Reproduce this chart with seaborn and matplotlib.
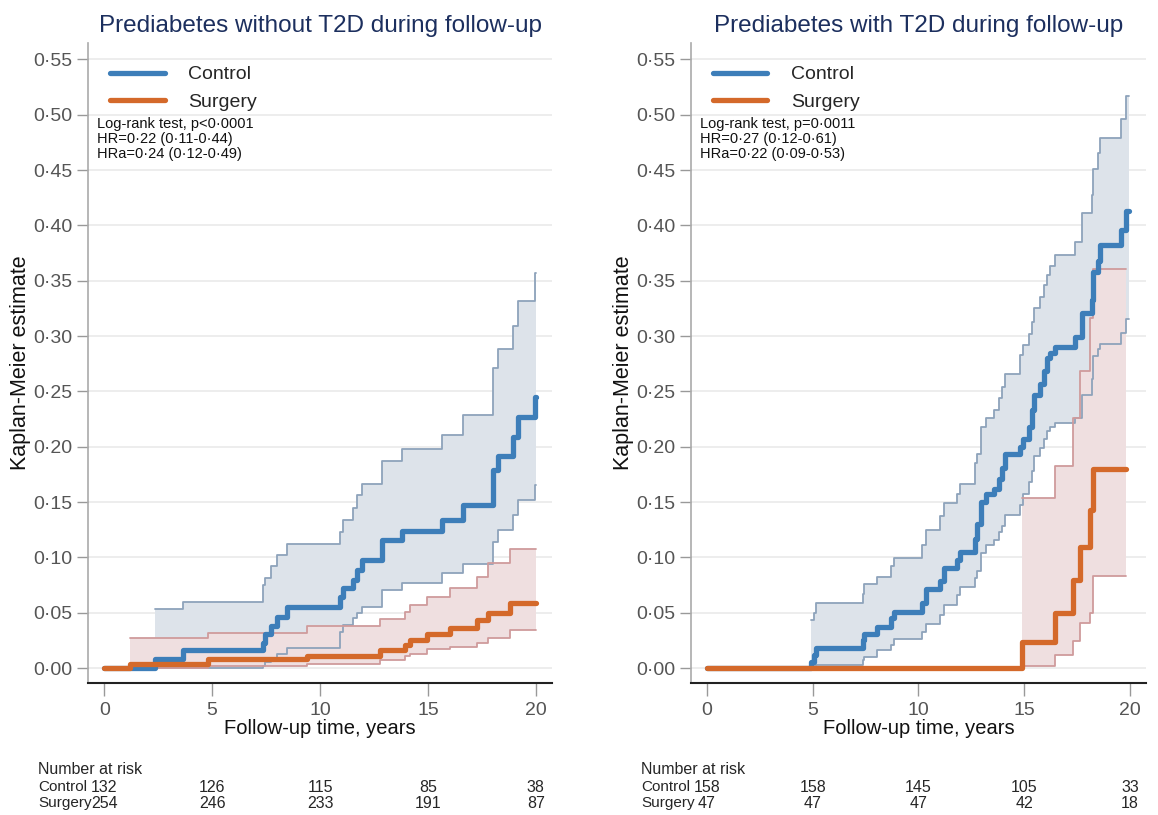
import matplotlib
matplotlib.use("Agg")
from matplotlib import pyplot as plt
from matplotlib import transforms
import seaborn as sns

# ---- data ----
# left panel: prediabetes without T2D during follow-up
L_ctrl_t = [0, 2.36, 3.67, 7.38, 7.45, 7.75, 8.0, 8.45, 10.93, 11.08, 11.55, 11.70, 11.93,
            12.86, 13.79, 15.64, 16.64, 18.03, 18.26, 18.96, 19.19, 19.96, 20.0]
L_ctrl_est = [0, 0.008, 0.016, 0.023, 0.031, 0.038, 0.046, 0.055, 0.064, 0.072, 0.0795, 0.0885, 0.098,
              0.1156, 0.124, 0.1337, 0.147, 0.179, 0.192, 0.209, 0.227, 0.245, 0.245]
L_ctrl_hi = [None, 0.053, 0.060, 0.075, 0.081, 0.092, 0.102, 0.112, 0.123, 0.134, 0.145, 0.156, 0.166,
             0.187, 0.1975, 0.211, 0.229, 0.271, 0.288, 0.309, 0.332, 0.357, 0.357]
L_ctrl_lo = [None, 0.0, 0.0, 0.002, 0.005, 0.009, 0.013, 0.018, 0.033, 0.039, 0.045, 0.050, 0.055,
             0.0705, 0.077, 0.0855, 0.094, 0.114, 0.125, 0.138, 0.152, 0.165, 0.165]

L_surg_t = [0, 1.2, 4.83, 9.39, 12.78, 13.94, 14.17, 14.95, 16.03, 17.26, 17.8, 18.8, 20.0]
L_surg_est = [0, 0.004, 0.008, 0.011, 0.016, 0.021, 0.025, 0.031, 0.036, 0.043, 0.050, 0.059, 0.059]
L_surg_hi = [None, 0.027, 0.032, 0.038, 0.044, 0.051, 0.057, 0.064, 0.072, 0.0825, 0.095, 0.108, 0.108]
L_surg_lo = [None, 0.0, 0.002, 0.0036, 0.007, 0.0105, 0.013, 0.017, 0.0193, 0.023, 0.027, 0.034, 0.034]

# right panel: prediabetes with T2D during follow-up
R_ctrl_t = [0, 4.93, 5.04, 5.16, 7.36, 7.44, 8.06, 8.69, 8.85, 10.18, 10.34, 11.04, 11.2, 11.83, 11.98,
            12.69, 12.77, 12.97, 13.21, 13.55, 13.79, 13.94, 14.10, 14.81, 14.96, 15.2, 15.36, 15.44,
            15.75, 15.91, 16.06, 16.22, 16.46, 17.4, 17.71, 18.18, 18.26, 18.49, 18.57, 19.59, 19.83, 19.95]
R_ctrl_est = [0, 0.005, 0.012, 0.018, 0.025, 0.031, 0.037, 0.045, 0.051, 0.059, 0.071, 0.079, 0.090, 0.098,
              0.105, 0.117, 0.130, 0.150, 0.157, 0.162, 0.171, 0.181, 0.193, 0.200, 0.207, 0.218, 0.233,
              0.247, 0.257, 0.268, 0.280, 0.285, 0.290, 0.299, 0.321, 0.333, 0.358, 0.368, 0.382, 0.396,
              0.413, 0.413]
R_ctrl_hi = [None, 0.043, 0.050, 0.059, 0.067, 0.076, 0.082, 0.092, 0.099, 0.111, 0.125, 0.137, 0.149, 0.157,
             0.166, 0.185, 0.193, 0.218, 0.226, 0.233, 0.244, 0.254, 0.266, 0.283, 0.292, 0.302, 0.313,
             0.325, 0.335, 0.346, 0.355, 0.363, 0.373, 0.385, 0.411, 0.427, 0.451, 0.465, 0.479, 0.496,
             0.517, 0.517]
R_ctrl_lo = [None, 0.001, 0.002, 0.003, 0.007, 0.010, 0.016, 0.021, 0.026, 0.033, 0.040, 0.048, 0.057, 0.066,
             0.073, 0.081, 0.088, 0.104, 0.111, 0.116, 0.123, 0.128, 0.138, 0.147, 0.157, 0.168, 0.178,
             0.192, 0.199, 0.207, 0.214, 0.218, 0.221, 0.226, 0.247, 0.261, 0.282, 0.288, 0.293, 0.303,
             0.315, 0.315]

R_surg_t = [0, 14.89, 16.46, 17.32, 17.63, 18.1, 18.26, 19.8]
R_surg_est = [0, 0.0235, 0.050, 0.0795, 0.109, 0.143, 0.180, 0.180]
R_surg_hi = [None, 0.154, 0.183, 0.226, 0.268, 0.316, 0.361, 0.361]
R_surg_lo = [None, 0.002, 0.012, 0.024, 0.041, 0.050, 0.083, 0.083]

titles = ["Prediabetes without T2D during follow-up", "Prediabetes with T2D during follow-up"]
stats_text = [["Log-rank test, p<0\u00b70001", "HR=0\u00b722 (0\u00b711-0\u00b744)", "HRa=0\u00b724 (0\u00b712-0\u00b749)"],
              ["Log-rank test, p=0\u00b70011", "HR=0\u00b727 (0\u00b712-0\u00b761)", "HRa=0\u00b722 (0\u00b709-0\u00b753)"]]
risk_times = [0, 5, 10, 15, 20]
L_risk_ctrl = [132, 126, 115, 85, 38]
L_risk_surg = [254, 246, 233, 191, 87]
R_risk_ctrl = [158, 158, 145, 105, 33]
R_risk_surg = [47, 47, 47, 42, 18]
yticks = [0, 0.05, 0.10, 0.15, 0.20, 0.25, 0.30, 0.35, 0.40, 0.45, 0.50, 0.55]
xticks = [0, 5, 10, 15, 20]

BLUE = "#3d7eb9"
ORANGE = "#d4692a"
BLUE_CI = "#8ea3bb"
BLUE_FILL = "#dde3ea"
RED_CI = "#cf9b9c"
RED_FILL = "#efdfe0"

sns.set_theme(style="white")
plt.rcParams['font.family'] = ['Liberation Sans', 'DejaVu Sans']

fig = plt.figure(figsize=(11.58, 8.15), dpi=100)
ax_l = fig.add_axes([0.076, 0.162, 0.4007, 0.785])
ax_r = fig.add_axes([0.5967, 0.162, 0.3929, 0.785])


def draw_ci(ax, t, lo, hi, line_col, fill_col):
    tt = t[1:]
    lo2 = lo[1:]
    hi2 = hi[1:]
    ax.fill_between(tt, lo2, hi2, step="post", color=fill_col, lw=0, zorder=1)
    sns.lineplot(x=tt, y=hi2, ax=ax, drawstyle="steps-post", color=line_col, lw=1.3, zorder=2)
    sns.lineplot(x=tt, y=lo2, ax=ax, drawstyle="steps-post", color=line_col, lw=1.3, zorder=2)


def panel(ax, title, ctrl, surg, stats, risk_c, risk_s):
    ax.set_xlim(-0.75, 20.75)
    ax.set_ylim(-0.0135, 0.5646)
    for y in yticks:
        ax.axhline(y, color="#ececec", lw=1.3, zorder=0)
    draw_ci(ax, ctrl[0], ctrl[2], ctrl[3], BLUE_CI, BLUE_FILL)
    draw_ci(ax, surg[0], surg[2], surg[3], RED_CI, RED_FILL)
    sns.lineplot(x=ctrl[0], y=ctrl[1], ax=ax, drawstyle="steps-post", color=BLUE, lw=3.8,
                 zorder=3, label="Control")
    sns.lineplot(x=surg[0], y=surg[1], ax=ax, drawstyle="steps-post", color=ORANGE, lw=3.8,
                 zorder=4, label="Surgery")

    ax.set_yticks(yticks)
    ax.set_yticklabels([f"{v:.2f}".replace(".", "\u00b7") for v in yticks])
    ax.set_xticks(xticks)
    ax.tick_params(axis="both", which="both", direction="out", length=8, width=1,
                   bottom=True, left=True, color="#999999", labelcolor="#555555",
                   labelsize=14, pad=3)
    ax.tick_params(axis="x", length=9, pad=5)
    for s in ["top", "right"]:
        ax.spines[s].set_visible(False)
    ax.spines["left"].set_color("#aaaaaa")
    ax.spines["left"].set_linewidth(1.2)
    ax.spines["bottom"].set_color("#222222")
    ax.spines["bottom"].set_linewidth(1.5)

    ax.set_title(title, fontsize=17.5, color="#1c2f5e", pad=8)
    ax.set_xlabel("Follow-up time, years", fontsize=14.5, color="#111111", labelpad=0)
    ax.set_ylabel("Kaplan-Meier estimate", fontsize=15.5, color="#111111", labelpad=2)

    ax.legend(loc="upper left", bbox_to_anchor=(0.01, 0.992), frameon=False, fontsize=14,
              handlelength=2.8, handletextpad=1.2, labelspacing=0.5)
    ax.text(0.019, 0.884, "\n".join(stats), transform=ax.transAxes, fontsize=10.5,
            va="top", ha="left", color="#111111", linespacing=1.05)

    # number at risk table
    tr = transforms.blended_transform_factory(ax.transData, fig.transFigure)
    x0 = ax.transAxes.transform((0, 0))[0]
    lab_x = (x0 - 50) / fig.bbox.width
    fig.text(lab_x, 1 - 770 / 815, "Number at risk", fontsize=11.5, va="center", ha="left")
    fig.text(lab_x, 1 - 787 / 815, "Control", fontsize=11, va="center", ha="left")
    fig.text(lab_x, 1 - 803 / 815, "Surgery", fontsize=11, va="center", ha="left")
    for t, c, s in zip(risk_times, risk_c, risk_s):
        ax.text(t, 1 - 787 / 815, str(c), transform=tr, fontsize=11.5, va="center", ha="center")
        ax.text(t, 1 - 803 / 815, str(s), transform=tr, fontsize=11.5, va="center", ha="center")


panel(ax_l, titles[0],
      (L_ctrl_t, L_ctrl_est, L_ctrl_lo, L_ctrl_hi),
      (L_surg_t, L_surg_est, L_surg_lo, L_surg_hi),
      stats_text[0], L_risk_ctrl, L_risk_surg)
panel(ax_r, titles[1],
      (R_ctrl_t, R_ctrl_est, R_ctrl_lo, R_ctrl_hi),
      (R_surg_t, R_surg_est, R_surg_lo, R_surg_hi),
      stats_text[1], R_risk_ctrl, R_risk_surg)

fig.savefig("out.png", dpi=100)
